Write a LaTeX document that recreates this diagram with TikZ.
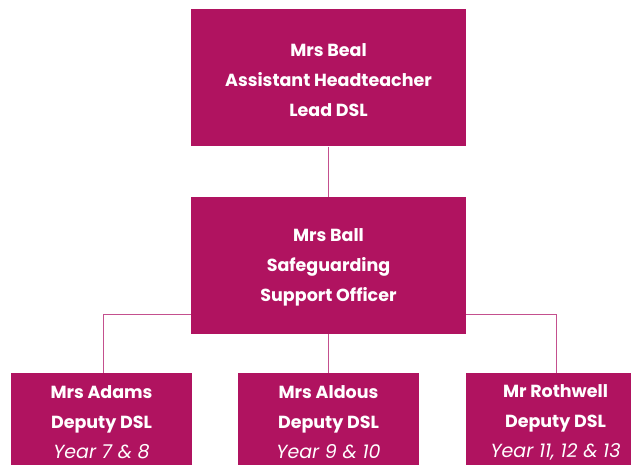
\documentclass[tikz,border=0pt]{standalone}
\usepackage{fontspec}
\setmainfont{Poppins}
\definecolor{boxc}{HTML}{B01360}
\definecolor{linec}{HTML}{C4508E}
\begin{document}
\begin{tikzpicture}[x=1pt,y=-1pt,
  box/.style={fill=boxc, draw=none, inner sep=0pt},
  txt/.style={text=white, align=center, font=\fontsize{17.5}{30}\selectfont\bfseries, inner sep=0pt},
  yr/.style={font=\fontsize{19}{30}\selectfont\mdseries\itshape},
  conn/.style={draw=linec, line width=1pt}]
\useasboundingbox (0,0) rectangle (631,465);
\begin{scope}
\clip (0,0) rectangle (631,465);
\coordinate (hl) at (103,314.5);
\coordinate (hr) at (556,314.5);
\node[box, minimum width=275, minimum height=137] (beal) at (328.5,78) {};
\node[box, minimum width=275, minimum height=137] (ball) at (328.5,265.5) {};
\node[box, minimum width=181, minimum height=110, anchor=north] (adams) at (101.5,373) {};
\node[box, minimum width=181, minimum height=110, anchor=north] (aldous) at (328.5,373) {};
\node[box, minimum width=181, minimum height=110, anchor=north] (roth) at (556.5,373) {};
\draw[conn] (beal.south) -- (ball.north);
\draw[conn] (ball.south) -- (aldous.north);
\draw[conn] (ball.west |- hl) -- (hl) -- (hl |- adams.north);
\draw[conn] (ball.east |- hr) -- (hr) -- (hr |- roth.north);
\node[txt] (bealt) at ([yshift=-2]beal.center) {Mrs Beal\\Assistant Headteacher\\Lead DSL};
\node[txt] (ballt) at ([yshift=-2]ball.center) {Mrs Ball\\Safeguarding\\Support Officer};
\node[txt] (adamst) at ([yshift=-49]adams.north) {Mrs Adams\\Deputy DSL\\{\fontsize{19}{30}\selectfont\mdseries\itshape Year 7 \& 8}};
\node[txt] (aldoust) at ([yshift=-49]aldous.north) {Mrs Aldous\\Deputy DSL\\{\fontsize{19}{30}\selectfont\mdseries\itshape Year 9 \& 10}};
\node[txt] (rotht) at ([xshift=-1,yshift=-49]roth.north) {Mr Rothwell\\Deputy DSL\\{\fontsize{19}{30}\selectfont\mdseries\itshape Year 11, 12 \& 13}};
\end{scope}
\end{tikzpicture}
\end{document}
